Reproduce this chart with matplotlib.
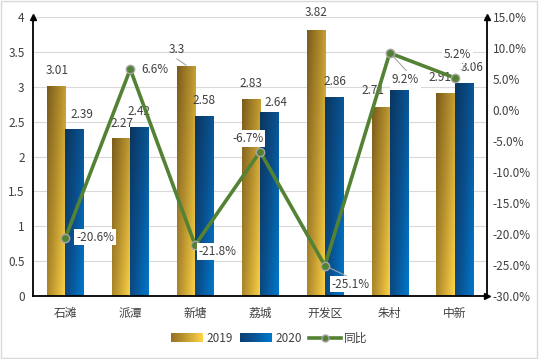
import numpy as np
import matplotlib
matplotlib.use("Agg")
import matplotlib.pyplot as plt
from matplotlib.patches import Rectangle
from matplotlib.lines import Line2D
from matplotlib.legend_handler import HandlerBase
from matplotlib.colors import LinearSegmentedColormap
from matplotlib.ticker import FuncFormatter, MultipleLocator

plt.rcParams['font.family'] = ['Noto Sans CJK SC', 'DejaVu Sans']

# data
towns = ['石滩', '派潭', '新塘', '荔城', '开发区', '朱村', '中新']
v2019 = [3.01, 2.27, 3.3, 2.83, 3.82, 2.71, 2.91]
v2020 = [2.39, 2.42, 2.58, 2.64, 2.86, 2.96, 3.06]
yoy = [-0.206, 0.066, -0.218, -0.067, -0.251, 0.092, 0.052]
yoy_txt = ['-20.6%', '6.6%', '-21.8%', '-6.7%', '-25.1%', '9.2%', '5.2%']
show2020 = [True, True, True, True, True, False, True]

# label placement (data coords)
pos2019 = [(-0.12, 3.24), (0.87, 2.48), (1.72, 3.54), (2.86, 3.05), (3.86, 4.06), (4.74, 2.94), (5.77, 3.14)]
pos2020 = [(0.26, 2.60), (1.13, 2.64), (2.14, 2.81), (3.25, 2.78), (4.16, 3.08), None, (6.27, 3.27)]
posyoy = [(0.46, -0.205), (1.38, 0.065), (2.35, -0.228), (2.81, -0.046), (4.40, -0.281), (5.24, 0.049), (6.04, 0.090)]

gold = LinearSegmentedColormap.from_list('gold', ['#7a5c1c', '#b8922e', '#ffd447'])
blue = LinearSegmentedColormap.from_list('blue', ['#0a355f', '#0a4f8c', '#0078cc'])
green = '#548235'
txt = '#404040'

xx, yy = np.meshgrid(np.linspace(0, 1, 40), np.linspace(0, 1, 60))
grad = 0.6 * xx + 0.4 * (1 - yy)  # row 0 = bottom (origin lower) -> light at bottom


def grad_bars(ax, xs, vals, w, cmap):
    for x, v in zip(xs, vals):
        r = Rectangle((x - w / 2, 0), w, v, facecolor='none', edgecolor='none')
        ax.add_patch(r)
        im = ax.imshow(grad, cmap=cmap, extent=[x - w / 2, x + w / 2, 0, v],
                       origin='lower', aspect='auto', zorder=2, vmin=0, vmax=1)
        im.set_clip_path(r)


class HandlerGrad(HandlerBase):
    def __init__(self, cmap):
        super().__init__()
        self.cmap = cmap

    def create_artists(self, legend, orig, xd, yd, width, height, fontsize, trans):
        arts = []
        n = 16
        for k in range(n):
            c = self.cmap(0.2 + 0.8 * (k + 0.5) / n)
            arts.append(Rectangle((xd + width * k / n, yd), width / n + 0.3, height,
                                  facecolor=c, edgecolor='none', transform=trans))
        return arts


fig = plt.figure(figsize=(5.39, 3.59), dpi=100)
fig.patches.append(Rectangle((0.002, 0.003), 0.995, 0.993, transform=fig.transFigure,
                             facecolor='none', edgecolor='#d9d9d9', lw=1))
ax = fig.add_axes([0.0612, 0.1755, 0.8423, 0.777])
ax2 = ax.twinx()

x = np.arange(len(towns))
w = 0.28
grad_bars(ax, x - w / 2, v2019, w, gold)
grad_bars(ax, x + w / 2, v2020, w, blue)

ax.set_xlim(-0.5, len(towns) - 0.5)
ax.set_ylim(0, 4)
ax.yaxis.set_major_locator(MultipleLocator(0.5))
ax.yaxis.set_major_formatter(FuncFormatter(lambda v, p: f'{v:g}'))
ax.grid(axis='y', color='#d9d9d9', lw=0.8, zorder=0)
ax.set_axisbelow(True)
ax.set_xticks(x)
ax.set_xticklabels(towns, fontsize=9, color=txt)
ax.tick_params(axis='both', length=0, colors=txt, labelsize=8.5)
ax.tick_params(axis='x', pad=8)
ax.tick_params(axis='y', pad=6)

ax2.set_ylim(-0.30, 0.15)
ax2.yaxis.set_major_locator(MultipleLocator(0.05))
ax2.yaxis.set_major_formatter(FuncFormatter(lambda v, p: f'{v * 100:.1f}%'))
ax2.tick_params(axis='y', length=0, colors=txt, labelsize=8.5, pad=4)

for a in (ax, ax2):
    a.spines['top'].set_visible(False)
for s in ('left', 'bottom'):
    ax.spines[s].set_color('black')
    ax.spines[s].set_linewidth(1.3)
ax.spines['right'].set_visible(False)
ax2.spines['left'].set_visible(False)
ax2.spines['bottom'].set_visible(False)
ax2.spines['right'].set_color('black')
ax2.spines['right'].set_linewidth(1.3)

# axis arrows
ax.plot([0], [1], marker='^', ms=4, color='black', transform=ax.transAxes, clip_on=False, zorder=6)
ax.plot([1], [0], marker='>', ms=4, color='black', transform=ax.transAxes, clip_on=False, zorder=6)
ax.plot([1], [1], marker='^', ms=4, color='black', transform=ax.transAxes, clip_on=False, zorder=6)

ax2.plot(x, yoy, color=green, lw=2.6, marker='o', ms=6, mfc=green, mec='#a5a5a5',
         mew=1, zorder=4)

for i, (px, py) in enumerate(pos2019):
    ax.text(px, py, f'{v2019[i]:g}', ha='center', va='center', fontsize=8.5, color=txt, zorder=7)
for i, p in enumerate(pos2020):
    if show2020[i]:
        ax.text(p[0], p[1], f'{v2020[i]:g}', ha='center', va='center', fontsize=8.5, color=txt, zorder=7)
for i, (px, py) in enumerate(posyoy):
    ax2.text(px, py, yoy_txt[i], ha='center', va='center', fontsize=8.5, color=txt, zorder=6,
             bbox=dict(boxstyle='square,pad=0.15', fc='white', ec='none'))

# leader lines
ax.plot([1.72, 1.86], [3.40, 3.31], color='#a5a5a5', lw=0.8, zorder=7)
ax2.plot([4.0, 4.34], [-0.251, -0.268], color='#a5a5a5', lw=0.8, zorder=3)
ax2.plot([5.04, 5.27], [0.088, 0.062], color='#a5a5a5', lw=0.8, zorder=3)
ax.plot([6.15, 6.12], [3.31, 3.23], color='#a5a5a5', lw=0.8, zorder=7)

handles = [Rectangle((0, 0), 1, 1), Rectangle((0, 0), 1, 1),
           Line2D([], [], color=green, lw=2.6, marker='o', ms=5, mfc=green, mec='#a5a5a5')]
fig.legend(handles, ['2019', '2020', '同比'], loc='center', bbox_to_anchor=(0.5, 0.058),
           ncol=3, frameon=False, fontsize=8.5, handlelength=2.7, handleheight=0.7,
           handletextpad=0.3, columnspacing=0.6, labelcolor=txt,
           handler_map={handles[0]: HandlerGrad(gold), handles[1]: HandlerGrad(blue)})

fig.savefig('out.png', dpi=100)
